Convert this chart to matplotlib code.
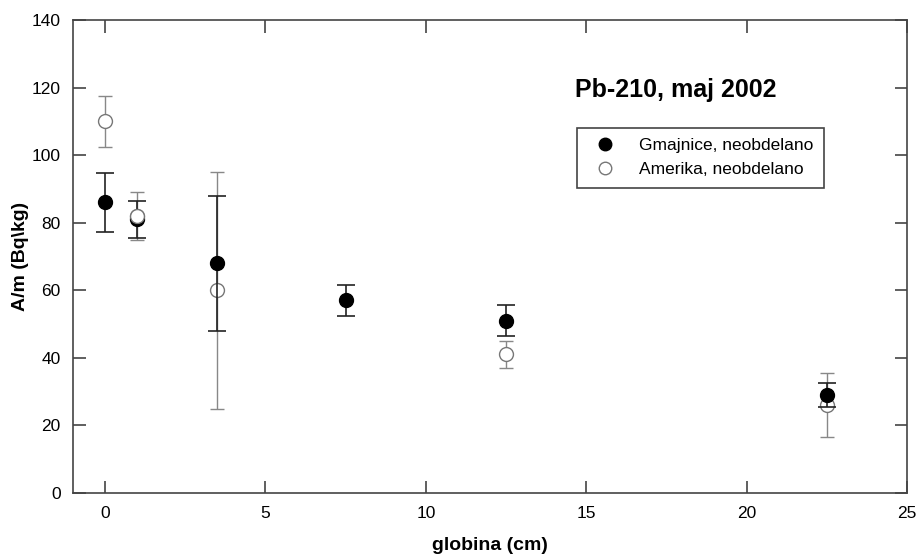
import matplotlib
matplotlib.use('Agg')
import matplotlib.pyplot as plt
from matplotlib.lines import Line2D

plt.rcParams['font.family'] = ['Liberation Sans', 'DejaVu Sans']

# depth (cm) and activity (Bq/kg)
depth_g = [0, 1, 3.5, 7.5, 12.5, 22.5]
act_g = [86, 81, 68, 57, 51, 29]
err_g = [8.7, 5.5, 20, 4.5, 4.5, 3.5]

depth_a = [0, 1, 3.5, 12.5, 22.5]
act_a = [110, 82, 60, 41, 26]
err_a = [7.5, 7, 35, 4, 9.5]

fig = plt.figure(figsize=(9.17, 5.58), dpi=100)
ax = fig.add_axes([73/917, 1 - 493/558, 834/917, 473/558])

ax.errorbar(depth_a, act_a, yerr=err_a, fmt='o', ms=10, mfc='white',
            mec='#777777', mew=1, ecolor='#888888', elinewidth=1,
            capsize=5, capthick=1, zorder=2)
ax.errorbar(depth_g, act_g, yerr=err_g, fmt='o', ms=10, mfc='black',
            mec='black', ecolor='#222222', elinewidth=1.2,
            capsize=6.5, capthick=1.2, zorder=3)
# open marker at 1 cm sits over the filled one
ax.plot(depth_a[1:2], act_a[1:2], 'o', ms=10, mfc='white', mec='#777777',
        mew=1, zorder=4)

ax.set_xlim(-1, 25)
ax.set_ylim(0, 140)
ax.set_xticks([0, 5, 10, 15, 20, 25])
ax.set_yticks(range(0, 141, 20))
ax.tick_params(direction='in', length=9, width=1.2, labelsize=12.5,
               top=True, right=True, pad=9, color='#444444')
for s in ax.spines.values():
    s.set_linewidth(1.2)
    s.set_color('#444444')

ax.set_xlabel('globina (cm)', fontsize=14, fontweight='bold', labelpad=12)
ax.set_ylabel('A/m (Bq\\kg)', fontsize=14, fontweight='bold', labelpad=2)

ax.text(0.602, 0.852, 'Pb-210, maj 2002', transform=ax.transAxes,
        fontsize=18, fontweight='bold', va='center', ha='left')

handles = [
    Line2D([], [], ls='', marker='o', ms=9, mfc='black', mec='black'),
    Line2D([], [], ls='', marker='o', ms=9, mfc='white', mec='#777777'),
]
labels = ['Gmajnice, neobdelano', 'Amerika, neobdelano']
leg = ax.legend(handles, labels, loc='upper left',
                bbox_to_anchor=(0.604, 0.772), fontsize=12.5,
                fancybox=False, edgecolor='#444444', framealpha=1,
                borderpad=0.6, handletextpad=1.0, labelspacing=0.5,
                borderaxespad=0)
leg.get_frame().set_linewidth(1.2)

fig.savefig('out.png', dpi=100)
